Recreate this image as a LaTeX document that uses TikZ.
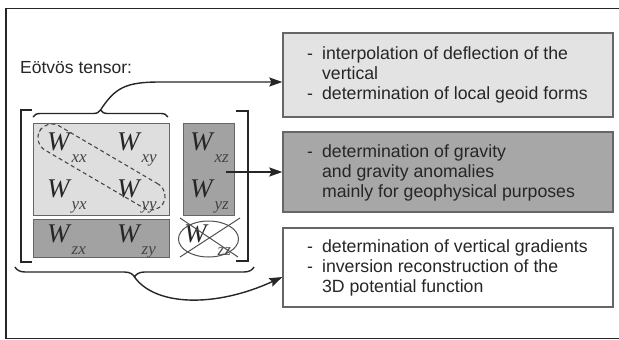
\documentclass[tikz,border=0pt]{standalone}
\usepackage{fontspec}
\setmainfont{Liberation Sans}
\newfontfamily\tnr{Liberation Serif}
\usetikzlibrary{arrows.meta,decorations.pathreplacing,shapes.geometric}
\definecolor{lightblk}{HTML}{DEDEDE}
\definecolor{darkblk}{HTML}{A2A2A2}
\definecolor{boxone}{HTML}{E3E3E3}
\definecolor{boxtwo}{HTML}{A7A7A7}
\definecolor{edgegray}{HTML}{666666}
\definecolor{inkgray}{HTML}{262626}
\definecolor{subgray}{HTML}{444444}
\newcommand\Wm[1]{{\fontsize{27}{27}\selectfont\tnr\itshape W}\hspace{2pt}\raisebox{-12pt}{\fontsize{17}{17}\selectfont\tnr\itshape\color{subgray}#1}}
\newcommand\Btxt[1]{\fontsize{17.7}{20}\selectfont\begin{tabular}{@{}l@{\hspace{9pt}}l@{}}#1\end{tabular}}
\tikzset{
  infobox/.style={draw=edgegray, line width=1.3pt, minimum width=330pt, inner sep=0pt},
  blk/.style={draw=edgegray, line width=0.9pt, inner sep=0pt},
  wlab/.style={inner sep=0pt, anchor=base west, text=inkgray},
  btext/.style={inner sep=0pt, anchor=west, text=inkgray},
  conn/.style={draw=inkgray, line width=1.4pt, -{Stealth[length=13pt,width=9pt,inset=2pt]}},
  bracketline/.style={draw=inkgray, line width=1.8pt},
  bracestyle/.style={draw=inkgray, line width=1.4pt, decorate},
  crossline/.style={draw=inkgray!80, line width=1pt},
}
\begin{document}
\begin{tikzpicture}[x=1pt,y=-1pt]
\useasboundingbox (0,0) rectangle (619,340);
% outer frame (open on the right)
\draw[draw=inkgray, line width=1.5pt] (625,8.5) -- (6,8.5) -- (6,338.5) -- (625,338.5);

% right-hand boxes
\node[infobox, fill=boxone, minimum height=84pt] (box1) at (448,75) {};
\node[infobox, fill=boxtwo, minimum height=80pt] (box2) at (448,172) {};
\node[infobox, fill=white, minimum height=79pt] (box3) at (448,267.5) {};
\node[btext] (t1) at (307,75) {\Btxt{-& interpolation of deflection of the\\ & vertical\\ -& determination of local geoid forms}};
\node[btext] (t2) at (307,173) {\Btxt{-& determination of gravity\\ & and gravity anomalies\\ & mainly for geophysical purposes}};
\node[btext] (t3) at (307,268) {\Btxt{-& determination of vertical gradients\\ -& inversion reconstruction of the\\ & 3D potential function}};

% title
\node[inner sep=0pt, anchor=west, text=inkgray] (title) at (20,68) {\fontsize{17.5}{19}\selectfont Eötvös tensor:};

% matrix blocks
\node[blk, fill=lightblk, minimum width=136pt, minimum height=92pt] (lb) at (101,169) {};
\node[blk, fill=darkblk, minimum width=136pt, minimum height=38pt] (db) at (101,238) {};
\node[blk, fill=darkblk, minimum width=51pt, minimum height=92pt] (rc) at (208.5,169) {};

% entries
\node[wlab] (wxx) at (47,150) {\Wm{xx}};
\node[wlab] (wxy) at (117,150) {\Wm{xy}};
\node[wlab] (wyx) at (47,197) {\Wm{yx}};
\node[wlab] (wyy) at (117,197) {\Wm{yy}};
\node[wlab] (wzx) at (47,242) {\Wm{zx}};
\node[wlab] (wzy) at (117,242) {\Wm{zy}};
\node[wlab] (wxz) at (190,150) {\Wm{xz}};
\node[wlab] (wyz) at (190,197) {\Wm{yz}};
\node[wlab] (wzz) at (184,242) {{\fontsize{27}{27}\selectfont\tnr\itshape W}\hspace{11pt}\raisebox{-13pt}{\fontsize{17}{17}\selectfont\tnr\itshape\color{subgray}zz}};

% dashed capsule around the diagonal
\node[draw=inkgray!85, dash pattern=on 4pt off 3pt, line width=1.1pt, rounded corners=14pt,
      minimum width=143pt, minimum height=28pt, rotate=-30.4, inner sep=0pt] (diag) at (101.5,167) {};

% crossed ellipse around W_zz
\node[draw=inkgray!80, ellipse, line width=1pt, minimum width=60pt, minimum height=36pt, inner sep=0pt] (ezz) at (208.5,239) {};
\draw[crossline] ([shift={(-28.5,18)}]ezz.center) -- ([shift={(31.5,-21)}]ezz.center);
\draw[crossline] ([shift={(-28.5,-21)}]ezz.center) -- ([shift={(29.5,18)}]ezz.center);

% square brackets
\draw[bracketline] (32,110) -- (21,110) -- (21,262) -- (32,262);
\draw[bracketline] (236,111) -- (248,111) -- (248,261) -- (236,261);

% braces
\draw[bracestyle, decoration={brace, amplitude=7pt}] (33,117) -- (168,117);
\coordinate (toptip) at (100.5,110);
\draw[bracestyle, decoration={brace, amplitude=10pt}] (254,267) -- (15,267);
\coordinate (bottip) at (134.5,277);

% connectors
\draw[conn] (toptip) .. controls (115,88) and (125,82) .. (160,82) -- ([yshift=-7pt]box1.west);
\draw[conn] ([xshift=-56pt]box2.west) -- (box2.west);
\draw[conn] (bottip) .. controls (155,306) and (215,308) .. ([yshift=-9.5pt]box3.west);
\end{tikzpicture}
\end{document}
